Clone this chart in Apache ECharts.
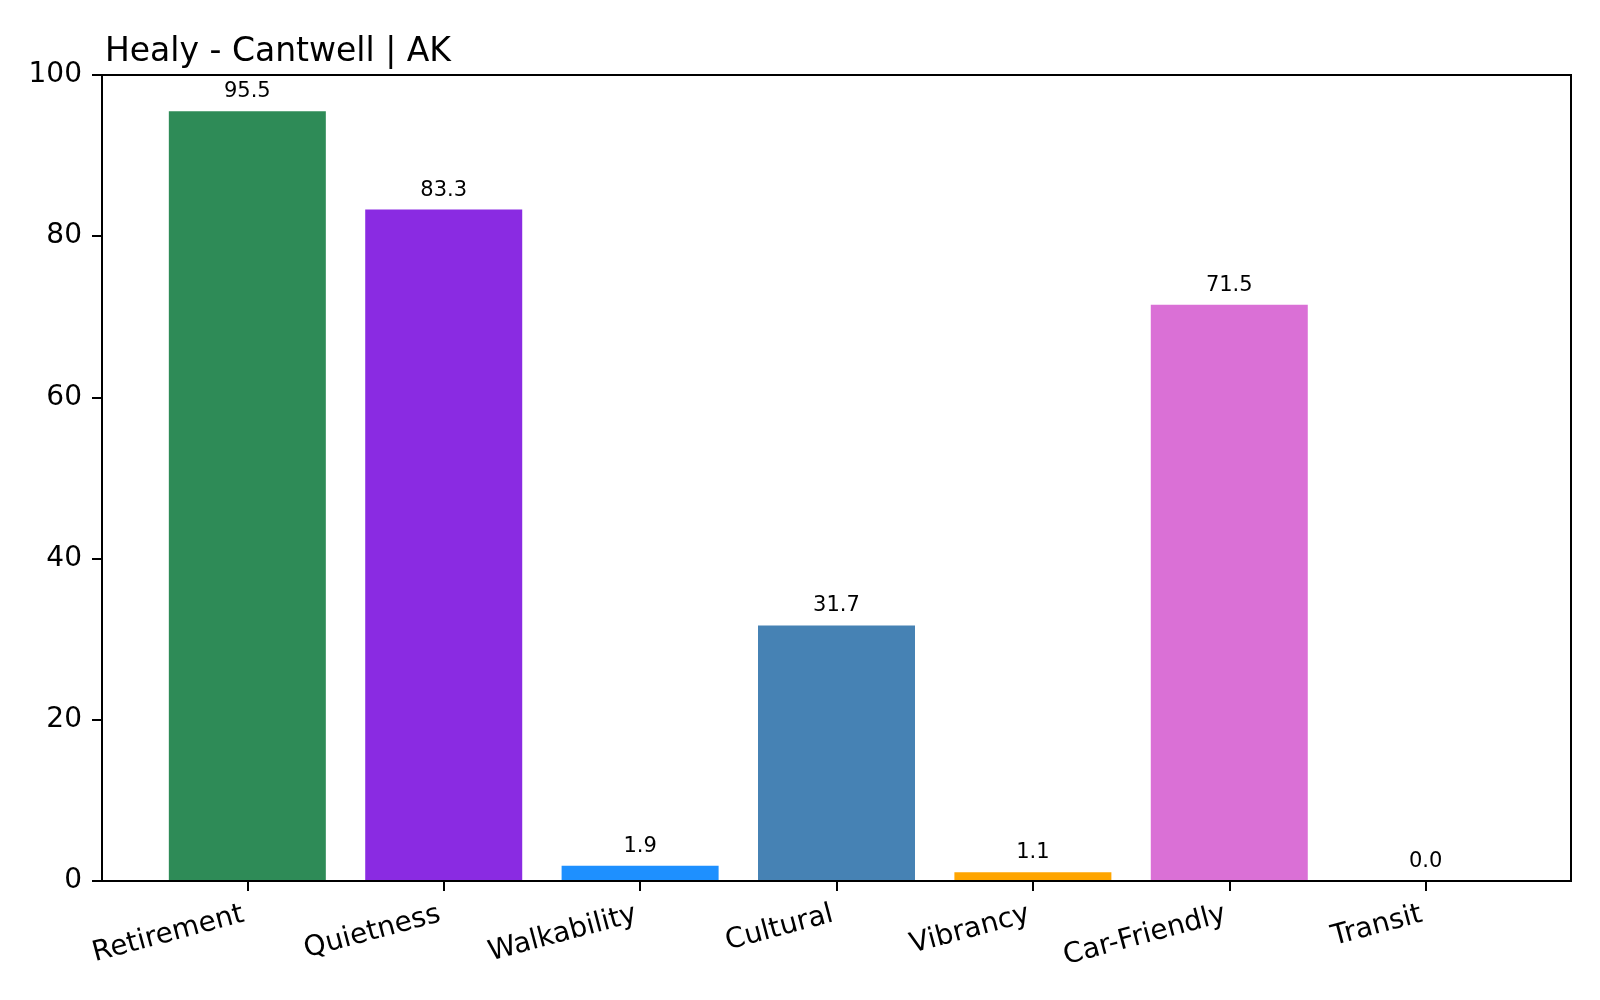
<!DOCTYPE html>
<html>
<head>
<meta charset="utf-8">
<script src="https://cdn.jsdelivr.net/npm/echarts@6/dist/echarts.min.js"></script>
<style>
html,body{margin:0;padding:0;background:#fff;}
#chart{width:1600px;height:1000px;}
</style>
</head>
<body>
<div id="chart"></div>
<script>
const titleText = 'Healy - Cantwell | AK';
const categories = ['Retirement', 'Quietness', 'Walkability', 'Cultural', 'Vibrancy', 'Car-Friendly', 'Transit'];
const values = [95.5, 83.3, 1.9, 31.7, 1.1, 71.5, 0.0];
const barColors = ['#2E8B57', '#8A2BE2', '#1E90FF', '#4682B4', '#FFA500', '#DA70D6', '#708090'];
const yTicks = [0, 20, 40, 60, 80, 100];

const font = 'DejaVu Sans';
const chart = echarts.init(document.getElementById('chart'), null, {renderer: 'canvas'});
const tickIdx = categories.map((c, i) => i);

chart.setOption({
  animation: false,
  backgroundColor: '#fff',
  title: {
    text: titleText,
    left: 100,
    top: 31,
    textStyle: {fontFamily: font, fontSize: 33, fontWeight: 'normal', color: '#000', lineHeight: 33}
  },
  grid: {
    left: 102, right: 29, top: 75, bottom: 119,
    show: true, borderColor: '#000', borderWidth: 2, backgroundColor: 'transparent',
    containLabel: false
  },
  xAxis: {
    type: 'value',
    min: -0.74,
    max: 6.74,
    z: 10,
    axisLine: {show: true, onZero: false, lineStyle: {color: '#000', width: 2}},
    axisTick: {show: true, customValues: tickIdx, length: 10, lineStyle: {color: '#000', width: 2}},
    axisLabel: {
      show: true,
      customValues: tickIdx,
      formatter: v => categories[Math.round(v)],
      rotate: 15,
      margin: 32,
      padding: [0, 4, 0, 0],
      fontFamily: font, fontSize: 28, color: '#000'
    },
    splitLine: {show: false}
  },
  yAxis: {
    type: 'value',
    position: 'left',
    min: yTicks[0],
    max: yTicks[yTicks.length - 1],
    interval: 20,
    z: 10,
    axisLine: {show: true, onZero: false, lineStyle: {color: '#000', width: 2}},
    axisTick: {show: true, length: 10, lineStyle: {color: '#000', width: 2}},
    axisLabel: {margin: 20, fontFamily: font, fontSize: 28, color: '#000'},
    splitLine: {show: false}
  },
  series: [{
    type: 'bar',
    barWidth: 157,
    data: categories.map((c, i) => ({value: [i, values[i]], itemStyle: {color: barColors[i]}})),
    label: {
      show: true,
      position: 'top',
      distance: 9,
      formatter: p => p.value[1].toFixed(1),
      fontFamily: font, fontSize: 21, color: '#000'
    }
  }]
});
</script>
</body>
</html>
